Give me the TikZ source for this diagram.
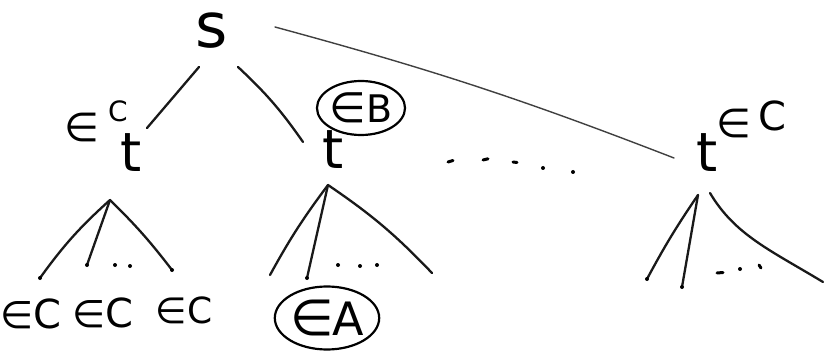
\documentclass[tikz,border=0pt]{standalone}
\usepackage{fontspec}
\setmainfont{DejaVu Sans}
\usetikzlibrary{shapes.geometric}
\newcommand{\fs}[1]{\fontsize{#1}{#1}\selectfont}
\begin{document}
\begin{tikzpicture}[x=1pt,y=-1pt,line cap=round,line join=round,
  edge/.style={line width=2.3pt,black!90},
  longedge/.style={line width=1.4pt,black!75},
  txt/.style={inner sep=0pt,anchor=center},
  ring/.style={draw,ellipse,line width=2.2pt,inner sep=0pt},
  pen/.style={fill=black,circle,inner sep=0pt,minimum size=4pt},
  penstroke/.style={line width=3pt}]
\useasboundingbox (0,0) rectangle (824,358);
% main nodes
\node[txt,font=\fs{62}] (s) at (212,31) {s};
\node[txt,font=\fs{54}] (t1) at (131,153) {t};
\node[txt,font=\fs{54}] (t2) at (333,150) {t};
\node[txt,font=\fs{54}] (t3) at (707,153) {t};
% labels near the t's
\node[txt,font=\fs{40}] (c1e) at (82,127) {∈};
\node[txt,font=\fs{28}] (c1c) at (118,111) {C};
\node[ring,minimum width=66pt,minimum height=54pt] (eb) at (361,108) {{\fs{42}∈}\kern-0.04em{\fs{38}B}};
\node[txt,font=\fs{40}] (c3e) at (734,123) {∈};
\node[txt,font=\fs{40}] (c3c) at (772,116) {C};
% leaf labels
\node[txt] (c11) at (31,314) {{\fs{38}∈}\kern-0.1em{\fs{40}C}};
\node[txt] (c12) at (103,313) {{\fs{38}∈}\kern-0.1em{\fs{40}C}};
\node[txt] (c13) at (184,310) {{\fs{36}∈}\kern0.02em{\fs{36}C}};
\node[ring,minimum width=78pt,minimum height=63pt] (ea) at (327,318) {{\fs{50}∈}\kern-0.12em{\fs{46}A}};
% top level connectors
\coordinate (sa) at (199,67);  \coordinate (t1top) at (147,128);
\coordinate (sb) at (238,67);  \coordinate (t2top) at (303,142);
\coordinate (sc) at (275,27);  \coordinate (t3top) at (674,158);
\draw[edge] (sa) -- (t1top);
\draw[edge] (sb) to[bend left=6] (t2top);
\draw[longedge] (sc) to[bend left=3] (t3top);
% ellipsis between subtrees
\coordinate (d1) at (448,162); \coordinate (d2) at (483,160); \coordinate (d3) at (513,162);
\draw[penstroke] (d1) -- ++(5,-1.5);
\draw[penstroke] (d2) -- ++(5,-1.2);
\draw[penstroke] (d3) -- ++(4,0.5);
\node[pen] (d4) at (543,168) {};
\node[pen] (d5) at (573,172) {};
% left subtree
\coordinate (a1) at (110,200);
\coordinate (l11) at (40,278);
\coordinate (l12) at (87,265);
\coordinate (l13) at (172,270);
\draw[edge] (a1) to[bend right=6] (l11);
\draw[edge] (a1) -- (l12);
\draw[edge] (a1) to[bend left=4] (l13);
\node[pen] at (l11) {}; \node[pen] at (l12) {}; \node[pen] at (l13) {};
\node[pen] (e11) at (115,265) {};
\node[pen] (e12) at (130,266) {};
% middle subtree
\coordinate (a2) at (328,185);
\coordinate (l21) at (270,275);
\coordinate (l22) at (307,278);
\coordinate (l23) at (432,273);
\draw[edge] (a2) to[bend right=4] (l21);
\draw[edge] (a2) -- (l22);
\draw[edge] (a2) to[bend left=6] (l23);
\node[pen] at (l22) {};
\node[pen] (e21) at (338,265) {};
\node[pen] (e22) at (360,266) {};
\node[pen] (e23) at (377,265) {};
% right subtree
\coordinate (a3) at (698,195);
\coordinate (a3r) at (710,193);
\coordinate (l31) at (647,279);
\coordinate (l32) at (682,287);
\coordinate (l33) at (823,282);
\draw[edge] (a3) to[bend right=3] (l31);
\draw[edge] (a3) -- (l32);
\draw[edge] (a3r) .. controls (735,235) and (770,250) .. (l33);
\node[pen] at (l31) {}; \node[pen] at (l32) {};
\draw[penstroke] (717,273) -- ++(6,-0.5);
\node[pen] (e31) at (740,269) {};
\draw[penstroke] (759,265) -- ++(2,3);
\end{tikzpicture}
\end{document}
